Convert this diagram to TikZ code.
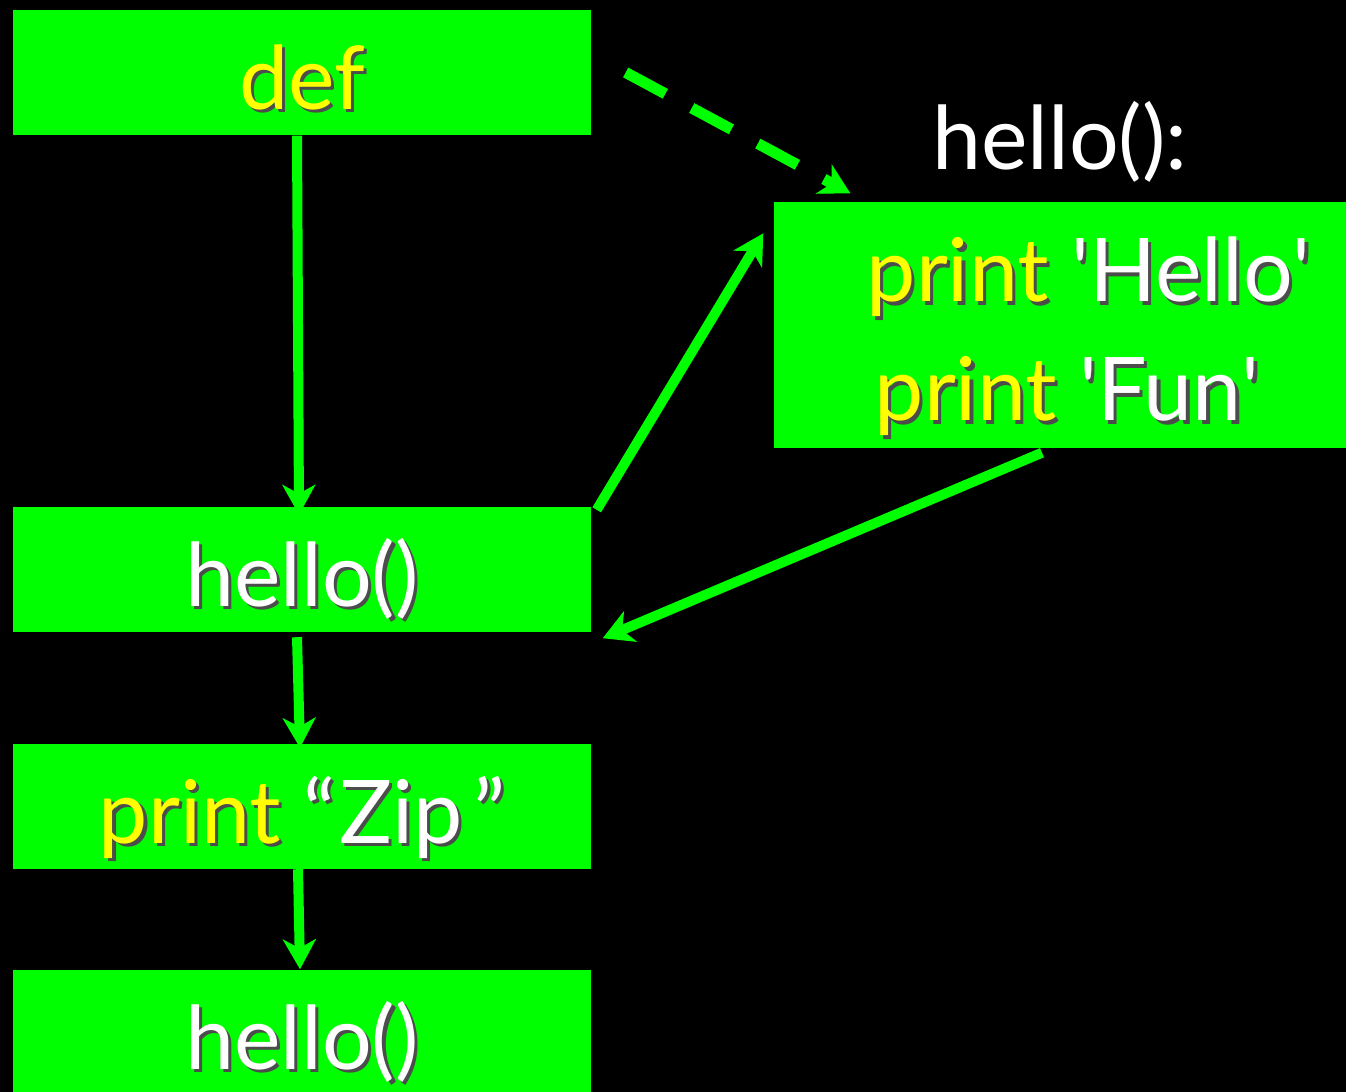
\documentclass[tikz,border=0pt]{standalone}
\usepackage{fontspec}
\setmainfont{Lato}
\usetikzlibrary{arrows.meta}
\definecolor{boxgreen}{HTML}{00FF00}
\definecolor{codeyellow}{HTML}{FFFF00}
\newcommand{\shtxt}[2][white]{\makebox[0pt][l]{\hspace{0.9pt}\raisebox{-0.9pt}{\textcolor{black!70}{#2}}}\textcolor{#1}{#2}}
\tikzset{
  stmt/.style={fill=boxgreen, minimum width=5.78cm, minimum height=1.25cm,
    text height=0.9cm, text depth=0.16cm, inner sep=0pt, font=\fontsize{25}{30}\selectfont},
  codeline/.style={anchor=base west, inner sep=0pt, font=\fontsize{25}{30}\selectfont},
  flow/.style={boxgreen, line width=0.1cm, -{Stealth[length=0.3cm,width=0.33cm,inset=0.09cm]}},
}
\begin{document}
\begin{tikzpicture}
  \useasboundingbox (0,0) rectangle (13.46,-10.92);
  \clip (0,0) rectangle (13.46,-10.92);
  \fill[black] (0,0) rectangle (13.46,-10.92);
  \draw
    (3.02,-0.725) node[stmt] (def) {\shtxt[codeyellow]{def}}
    (3.02,-5.69) node[stmt] (hello1) {\shtxt{hello()}}
    (3.02,-8.06) node[stmt] (zip) {\shtxt[codeyellow]{print} \shtxt{“\kern0.04em Zip\kern0.12em”}}
    (3.02,-10.325) node[stmt] (hello2) {\shtxt{hello()}};
  \node[fill=boxgreen, minimum width=5.72cm, minimum height=2.46cm, inner sep=0pt] (body) at (10.60,-3.25) {};
  \node[codeline] (line1) at (8.66,-3.02) {\shtxt[codeyellow]{print} \shtxt{\textquotesingle Hello\textquotesingle}};
  \node[codeline] (line2) at (8.74,-4.21) {\shtxt[codeyellow]{print} \shtxt{\textquotesingle Fun\textquotesingle}};
  \node[anchor=base, inner sep=0pt, text=white, font=\fontsize{25}{30}\selectfont] (sig) at (10.60,-1.70) {hello():};
  \begin{scope}[flow]
    \draw ([xshift=-0.05cm]def.south) to ([xshift=-0.03cm,yshift=-0.09cm]hello1.north);
    \draw ([xshift=-0.05cm,yshift=-0.05cm]hello1.south) to ([xshift=-0.02cm,yshift=-0.05cm]zip.north);
    \draw ([xshift=-0.04cm]zip.south) to ([xshift=-0.02cm,yshift=0.0cm]hello2.north);
    \draw[line width=0.11cm, dash pattern=on 0.45cm off 0.3cm] ([xshift=0.34cm]def.east) to ([xshift=0.77cm,yshift=0.08cm]body.north west);
    \draw ([xshift=0.05cm,yshift=-0.04cm]hello1.north east) to ([xshift=-0.1cm,yshift=-0.32cm]body.north west);
    \draw ([xshift=-0.18cm,yshift=-0.04cm]body.south) to ([xshift=0.11cm,yshift=-0.06cm]hello1.south east);
  \end{scope}
\end{tikzpicture}
\end{document}
